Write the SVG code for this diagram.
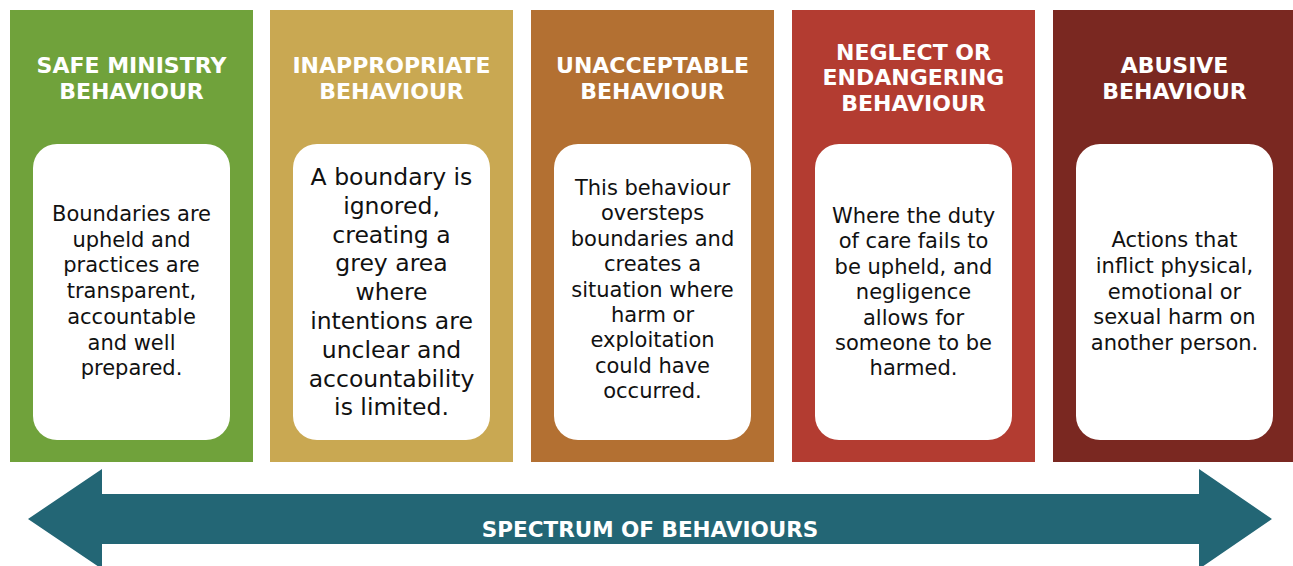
<svg xmlns="http://www.w3.org/2000/svg" width="1293" height="566" viewBox="0 0 1293 566">
<style>
.hd{font-family:"DejaVu Sans",Verdana,sans-serif;font-weight:bold;font-size:22px;fill:#fff;text-anchor:middle}
.bd{font-family:"DejaVu Sans",Verdana,sans-serif;font-size:21px;fill:#111;text-anchor:middle}
.bx{fill:#fff}
.lb{font-family:"DejaVu Sans",Verdana,sans-serif;font-weight:bold;font-size:21.5px;fill:#fff;text-anchor:middle}
</style>
<rect width="1293" height="566" fill="#fff"/>
<g id="col1">
<rect x="10" y="10" width="243" height="452" fill="#70A23B"/>
<text class="hd" x="131.5" y="73">SAFE MINISTRY</text>
<text class="hd" x="131.5" y="98.5">BEHAVIOUR</text>
<rect class="bx" x="33" y="144" width="197" height="296" rx="24"/>
<text class="bd" x="131.5" y="221">Boundaries are</text>
<text class="bd" x="131.5" y="246.7">upheld and</text>
<text class="bd" x="131.5" y="272.4">practices are</text>
<text class="bd" x="131.5" y="298.1">transparent,</text>
<text class="bd" x="131.5" y="323.8">accountable</text>
<text class="bd" x="131.5" y="349.5">and well</text>
<text class="bd" x="131.5" y="375.2">prepared.</text>
</g>
<g id="col2">
<rect x="270" y="10" width="243" height="452" fill="#C9A852"/>
<text class="hd" x="391.5" y="73">INAPPROPRIATE</text>
<text class="hd" x="391.5" y="98.5">BEHAVIOUR</text>
<rect class="bx" x="293" y="144" width="197" height="296" rx="24"/>
<g class="bd" style="font-size:23.5px">
<text x="391.5" y="185">A boundary is</text>
<text x="391.5" y="213.8">ignored,</text>
<text x="391.5" y="242.6">creating a</text>
<text x="391.5" y="271.4">grey area</text>
<text x="391.5" y="300.2">where</text>
<text x="391.5" y="329">intentions are</text>
<text x="391.5" y="357.8">unclear and</text>
<text x="391.5" y="386.6">accountability</text>
<text x="391.5" y="415.4">is limited.</text>
</g>
</g>
<g id="col3">
<rect x="531" y="10" width="243" height="452" fill="#B37032"/>
<text class="hd" x="652.5" y="73">UNACCEPTABLE</text>
<text class="hd" x="652.5" y="98.5">BEHAVIOUR</text>
<rect class="bx" x="554" y="144" width="197" height="296" rx="24"/>
<text class="bd" x="652.5" y="195">This behaviour</text>
<text class="bd" x="652.5" y="220.4">oversteps</text>
<text class="bd" x="652.5" y="245.8">boundaries and</text>
<text class="bd" x="652.5" y="271.2">creates a</text>
<text class="bd" x="652.5" y="296.6">situation where</text>
<text class="bd" x="652.5" y="322">harm or</text>
<text class="bd" x="652.5" y="347.4">exploitation</text>
<text class="bd" x="652.5" y="372.8">could have</text>
<text class="bd" x="652.5" y="398.2">occurred.</text>
</g>
<g id="col4">
<rect x="792" y="10" width="243" height="452" fill="#B33C31"/>
<text class="hd" x="913.5" y="59.5">NEGLECT OR</text>
<text class="hd" x="913.5" y="85">ENDANGERING</text>
<text class="hd" x="913.5" y="110.5">BEHAVIOUR</text>
<rect class="bx" x="815" y="144" width="197" height="296" rx="24"/>
<text class="bd" x="913.5" y="223">Where the duty</text>
<text class="bd" x="913.5" y="248.4">of care fails to</text>
<text class="bd" x="913.5" y="273.8">be upheld, and</text>
<text class="bd" x="913.5" y="299.2">negligence</text>
<text class="bd" x="913.5" y="324.6">allows for</text>
<text class="bd" x="913.5" y="350">someone to be</text>
<text class="bd" x="913.5" y="375.4">harmed.</text>
</g>
<g id="col5">
<rect x="1053" y="10" width="243" height="452" fill="#7A2821"/>
<text class="hd" x="1174.5" y="73">ABUSIVE</text>
<text class="hd" x="1174.5" y="98.5">BEHAVIOUR</text>
<rect class="bx" x="1076" y="144" width="197" height="296" rx="24"/>
<text class="bd" x="1174.5" y="247">Actions that</text>
<text class="bd" x="1174.5" y="272.8">inflict physical,</text>
<text class="bd" x="1174.5" y="298.6">emotional or</text>
<text class="bd" x="1174.5" y="324.4">sexual harm on</text>
<text class="bd" x="1174.5" y="350.2">another person.</text>
</g>
<g id="connectors">
<g id="spectrum-arrow">
<polygon points="28,519 102,469 102,494 1199,494 1199,469 1272,519 1199,569 1199,544 102,544 102,569" fill="#236675"/>
<text class="lb" x="650" y="537">SPECTRUM OF BEHAVIOURS</text>
</g>
</g>
</svg>
